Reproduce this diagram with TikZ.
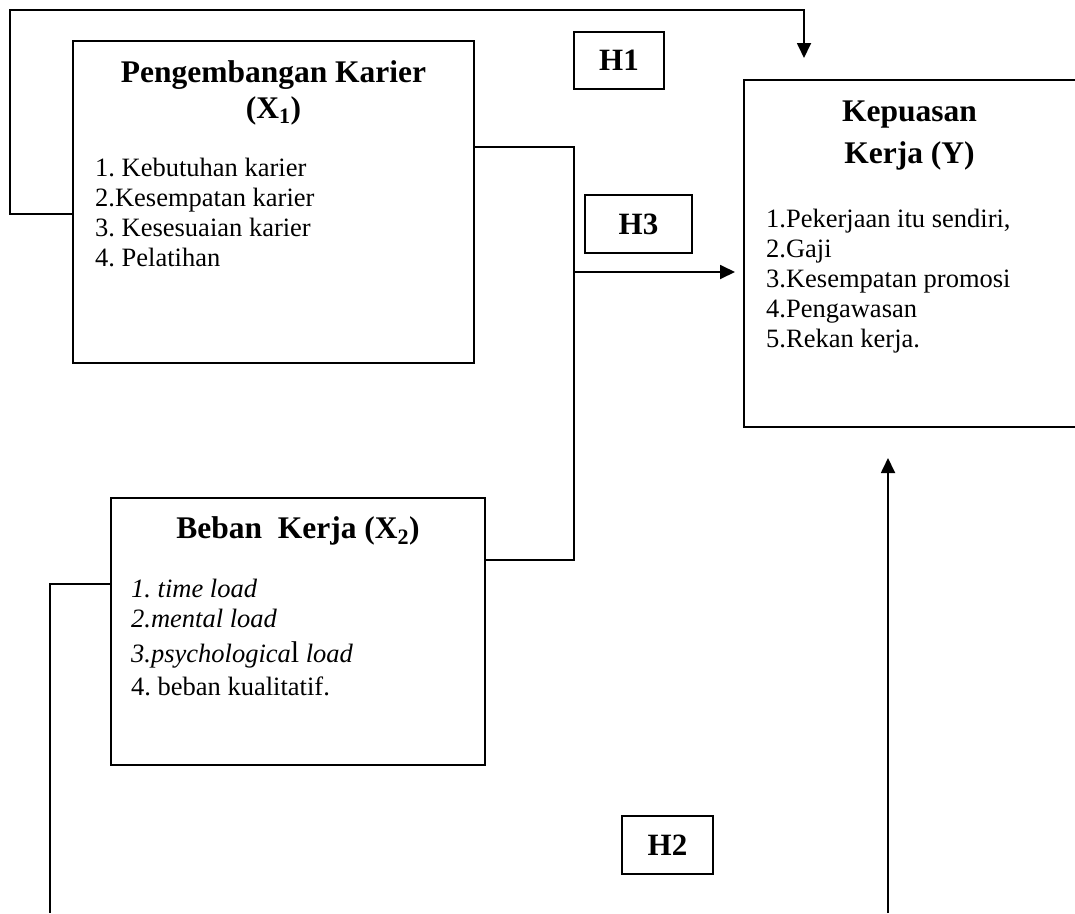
\documentclass[tikz,border=0pt]{standalone}
\usepackage{fontspec}
\setmainfont{Liberation Serif}
\usetikzlibrary{arrows.meta}
\frenchspacing

\tikzset{
  box/.style={draw, line width=1.8pt, rectangle, inner sep=0pt, outer sep=0pt},
  hbox/.style={box, font=\bfseries\fontsize{31}{36}\selectfont},
  head/.style={font=\bfseries\fontsize{31.5}{36}\selectfont, inner sep=0pt, anchor=base},
  item/.style={font=\fontsize{26.5}{30}\selectfont, inner sep=0pt, anchor=base west},
  link/.style={line width=1.8pt},
  arr/.style={link, -{Triangle[length=15pt, width=14pt]}},
}

\begin{document}
\begin{tikzpicture}[x=1pt, y=-1pt]
\useasboundingbox (0,0) rectangle (1075,913);
% variable boxes
\node[box, minimum width=401pt, minimum height=322pt] (X1) at (273.5,202) {};
\node[box, minimum width=374pt, minimum height=267pt] (X2) at (298,631.5) {};
\node[box, draw=none, minimum width=331pt, minimum height=347pt] (Y) at (909.5,253.5) {};
\draw[link] (Y.north east) -- (Y.north west) -- (Y.south west) -- (Y.south east);

% X1: Pengembangan Karier
\node[head] (X1t) at (273.5,82) {Pengembangan Karier};
\node[head] (X1s) at (273.5,118) {(X\textsubscript{1})};
\foreach \t [count=\i from 0] in {1. Kebutuhan karier, 2.Kesempatan karier, 3. Kesesuaian karier, 4. Pelatihan}
  \node[item] (X1i\i) at (95,{176+30.3*\i}) {\t};

% X2: Beban Kerja
\node[head] (X2t) at (298,538) {Beban\ \ Kerja (X\textsubscript{2})};
\node[item] (X2i1) at (131,597) {\textit{1. time load}};
\node[item] (X2i2) at (131,627) {\textit{2.mental load}};
\node[item] (X2i3) at (131,662) {\textit{3.psychologica}{\fontsize{30}{30}\selectfont l} \textit{load}};
\node[item] (X2i4) at (131,695) {4. beban kualitatif.};

% Y: Kepuasan Kerja
\node[head] (Yt) at (909.5,121) {Kepuasan};
\node[head] (Ys) at (909.5,163) {Kerja (Y)};
\foreach \t [count=\i from 0] in {{1.Pekerjaan itu sendiri,}, 2.Gaji, 3.Kesempatan promosi, 4.Pengawasan, 5.Rekan kerja.}
  \node[item] (Yi\i) at (766,{227+30*\i}) {\t};

% hypothesis labels
\node[hbox, minimum width=90pt, minimum height=57pt] (H1) at (619,60.5) {H1};
\node[hbox, minimum width=107pt, minimum height=58pt] (H3) at (638.5,224) {H3};
\node[hbox, minimum width=91pt, minimum height=58pt] (H2) at (667.5,845) {H2};

% connectors
\coordinate (c1) at (10,10);
\coordinate (h1tip) at (804,58);
\coordinate (j) at (574,272);
\coordinate (b1) at (50,913);
\coordinate (b2) at (888,913);
\draw[arr] ([yshift=-12pt]X1.west) -| (c1) -| (h1tip);
\draw[link] ([yshift=55pt]X1.east) -| (j) |- ([yshift=71.5pt]X2.east);
\draw[arr, shorten >=9pt] (j) -- (j -| Y.west);
\draw[link] ([yshift=47.5pt]X2.west) -| (b1);
\draw[arr, shorten >=31pt] (b2) -- (b2 |- Y.south);
\end{tikzpicture}
\end{document}
